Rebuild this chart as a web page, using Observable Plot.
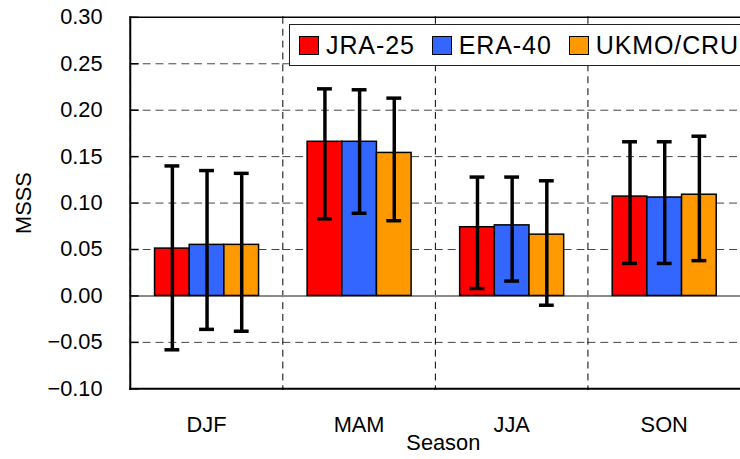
<!DOCTYPE html>
<html>
<head>
<meta charset="utf-8">
<script src="https://cdn.jsdelivr.net/npm/d3@7"></script>
<script src="https://cdn.jsdelivr.net/npm/@observablehq/plot@0.6"></script>
<style>
  html, body { margin: 0; padding: 0; background: #fff; overflow: hidden; }
  #wrap { position: relative; width: 740px; height: 459px; overflow: hidden; font-family: "Liberation Sans", Arial, sans-serif; }
  #legend { position: absolute; left: 289px; top: 24px; height: 42px; width: 470px; border: 1px solid #222; background: #fff;
            display: flex; align-items: center; padding-left: 9px; box-sizing: border-box; font-size: 25px; color: #000; letter-spacing: 0.9px; }
  #legend .item { display: flex; align-items: center; margin-right: 17px; white-space: nowrap; }
  #legend .sw { width: 18px; height: 17px; border: 1.5px solid #000; margin-right: 7px; }
</style>
</head>
<body>
<div id="wrap"></div>
<script>
const seasons = ["DJF", "MAM", "JJA", "SON"];
const series = ["JRA-25", "ERA-40", "UKMO/CRU"];
const colors = ["#ff0000", "#3366ff", "#ff9900"];

const jraValue = [0.051, 0.166, 0.074, 0.107];
const eraValue = [0.055, 0.166, 0.076, 0.106];
const ukmoValue = [0.055, 0.154, 0.066, 0.109];

const jraLow = [-0.058, 0.083, 0.008, 0.035];
const jraHigh = [0.140, 0.223, 0.128, 0.166];
const eraLow = [-0.036, 0.089, 0.016, 0.035];
const eraHigh = [0.135, 0.222, 0.128, 0.166];
const ukmoLow = [-0.038, 0.081, -0.010, 0.038];
const ukmoHigh = [0.132, 0.213, 0.124, 0.172];

const yTicks = [-0.10, -0.05, 0.00, 0.05, 0.10, 0.15, 0.20, 0.25, 0.30];
const xTitle = "Season";
const yTitle = "MSSS";

const values = [jraValue, eraValue, ukmoValue];
const lows = [jraLow, eraLow, ukmoLow];
const highs = [jraHigh, eraHigh, ukmoHigh];

const data = seasons.flatMap((s, i) => series.map((k, j) => ({
  season: s, series: k, value: values[j][i], lo: lows[j][i], hi: highs[j][i]
})));

const fmt = d3.format(".2f");

const chart = Plot.plot({
  width: 747,
  height: 459,
  marginLeft: 130,
  marginRight: 0,
  marginTop: 17,
  marginBottom: 67,
  style: { fontFamily: "'Liberation Sans', Arial, sans-serif", background: "white", color: "#000" },
  fx: { domain: seasons, padding: 0, label: null, axis: null },
  x: { domain: series, paddingInner: 0, paddingOuter: 0.68, axis: null },
  y: { domain: [-0.1, 0.3], axis: null },
  color: { domain: series, range: colors },
  marks: [
    Plot.gridY(yTicks.slice(1, -1), { stroke: "#444", strokeOpacity: 1, strokeDasharray: "8,5", strokeWidth: 1 }),
    Plot.frame({ anchor: "left", stroke: "#000", strokeDasharray: "6,6", strokeWidth: 1 }),
    Plot.ruleY([0], { stroke: "#8a8a8a", strokeWidth: 2 }),
    Plot.barY(data, { fx: "season", x: "series", y: "value", fill: "series", stroke: "#000", strokeWidth: 1.5 }),
    Plot.ruleX(data, { fx: "season", x: "series", y1: "lo", y2: "hi", stroke: "#000", strokeWidth: 3.5 }),
    Plot.tickY(data, { fx: "season", x: "series", y: "lo", stroke: "#000", strokeWidth: 3.5, insetLeft: 10, insetRight: 10 }),
    Plot.tickY(data, { fx: "season", x: "series", y: "hi", stroke: "#000", strokeWidth: 3.5, insetLeft: 10, insetRight: 10 }),
    Plot.frame({ anchor: "top", stroke: "#000", strokeWidth: 1.5 }),
    Plot.frame({ anchor: "bottom", stroke: "#000", strokeWidth: 2 }),
    Plot.frame({ anchor: "left", facetAnchor: "left", stroke: "#000", strokeWidth: 2 }),
    Plot.axisY(yTicks, { anchor: "left", tickSize: -9, tickPadding: 37, tickFormat: fmt, fontSize: 22,
      label: null, strokeWidth: 1.5 }),
    Plot.axisY({ anchor: "left", ticks: [], tickSize: 0, fontSize: 22,
      label: yTitle, labelArrow: "none", labelAnchor: "center", labelOffset: 116 }),
    Plot.axisFx({ anchor: "bottom", tickSize: 0, tickPadding: 28, fontSize: 22, label: null }),
    Plot.text([xTitle], { facet: "super", frameAnchor: "bottom", dy: 55, dx: 8, lineAnchor: "middle",
      fontSize: 22, fill: "#000" })
  ]
});

const wrap = document.getElementById("wrap");
wrap.appendChild(chart);

const legend = document.createElement("div");
legend.id = "legend";
series.forEach((s, i) => {
  const item = document.createElement("div");
  item.className = "item";
  const sw = document.createElement("div");
  sw.className = "sw";
  sw.style.background = colors[i];
  const t = document.createElement("span");
  t.textContent = s;
  item.appendChild(sw);
  item.appendChild(t);
  legend.appendChild(item);
});
wrap.appendChild(legend);
</script>
</body>
</html>
